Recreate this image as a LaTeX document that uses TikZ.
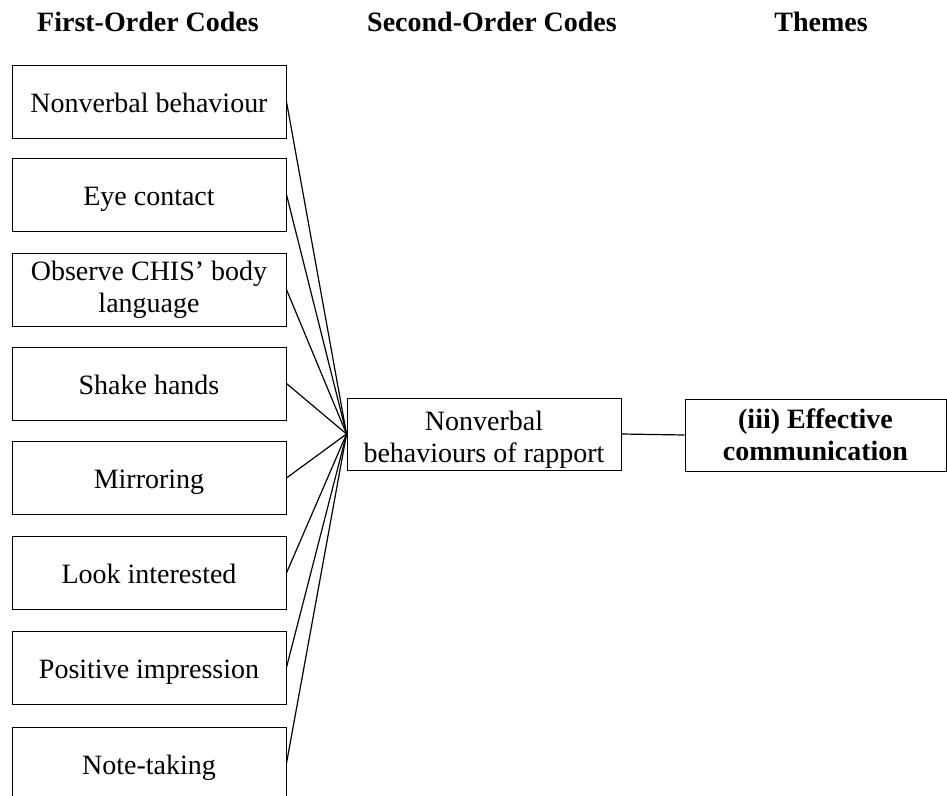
\documentclass[tikz,border=0pt]{standalone}
\usepackage{fontspec}
\setmainfont{Liberation Serif}
\begin{document}
\begin{tikzpicture}[x=1bp,y=-1bp,
  txt/.style={font=\fontsize{28.1}{32.1}\selectfont},
  codebox/.style={txt, draw=black, line width=0.9bp, minimum width=274bp,
    minimum height=73bp, inner sep=0pt, align=center},
  oneline/.style={text height=27.5bp, text depth=6bp},
  link/.style={line width=1.2bp},
  head/.style={anchor=base, inner sep=0pt, font=\fontsize{28.1}{32.1}\selectfont\bfseries}]
\useasboundingbox (0,0) rectangle (947,796);
\clip (0,0) rectangle (947,796);

% column headings
\node[head] (h1) at (148,32) {First-Order Codes};
\node[head] (h2) at (492,32) {Second-Order Codes};
\node[head] (h3) at (821,32) {Themes};

% first-order codes
\node[codebox, oneline] (c1) at (149,101.5) {Nonverbal behaviour};
\node[codebox, oneline] (c2) at (149,194.5) {Eye contact};
\node[codebox] (c3) at (149,289.5) {Observe CHIS’ body\\language};
\node[codebox, oneline] (c4) at (149,383.5) {Shake hands};
\node[codebox, oneline] (c5) at (149,478) {Mirroring};
\node[codebox, oneline] (c6) at (149,573) {Look interested};
\node[codebox, oneline] (c7) at (149,667.5) {Positive impression};
\node[codebox, oneline] (c8) at (149,763.5) {Note-taking};

% second-order code
\node[codebox, minimum height=72bp, text height=63.5bp] (s1) at (484,434) {Nonverbal\\behaviours of rapport};

% theme
\node[codebox, minimum width=261bp, minimum height=72bp, font=\fontsize{28.1}{32.1}\selectfont\bfseries]
  (t1) at (815.5,435) {(iii) Effective\\communication};

% connectors
\foreach \c in {c1,c2,c3,c4,c5,c6,c7,c8}
  \draw[link] (\c.east) -- (s1.west);
\draw[link] (s1.east) -- (t1.west);
\end{tikzpicture}
\end{document}
